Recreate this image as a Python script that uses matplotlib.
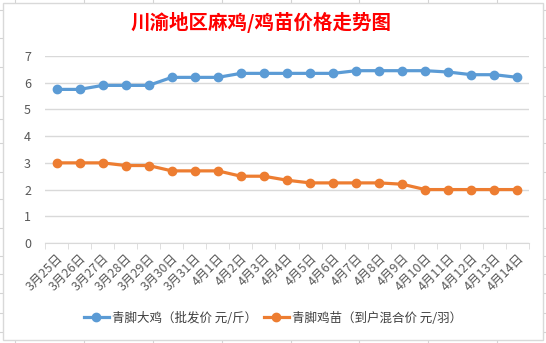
import matplotlib
matplotlib.use("Agg")
import matplotlib.pyplot as plt
from matplotlib.lines import Line2D
from matplotlib.patches import Rectangle
import numpy as np

plt.rcParams['font.family'] = ['Noto Sans CJK SC', 'DejaVu Sans']

dates = ['3月25日', '3月26日', '3月27日', '3月28日', '3月29日', '3月30日', '3月31日',
         '4月1日', '4月2日', '4月3日', '4月4日', '4月5日', '4月6日', '4月7日',
         '4月8日', '4月9日', '4月10日', '4月11日', '4月12日', '4月13日', '4月14日']
big_chicken = [5.75, 5.75, 5.9, 5.9, 5.9, 6.2, 6.2, 6.2, 6.35, 6.35, 6.35,
               6.35, 6.35, 6.45, 6.45, 6.45, 6.45, 6.4, 6.3, 6.3, 6.2]
chick = [3.0, 3.0, 3.0, 2.9, 2.9, 2.7, 2.7, 2.7, 2.5, 2.5, 2.35,
         2.25, 2.25, 2.25, 2.25, 2.2, 2.0, 2.0, 2.0, 2.0, 2.0]
labels = ['青脚大鸡（批发价 元/斤）', '青脚鸡苗（到户混合价 元/羽）']
title = '川渝地区麻鸡/鸡苗价格走势图'

W, H = 546, 343
fig = plt.figure(figsize=(W / 100, H / 100), dpi=100)

# worksheet grid peeking around the chart
grid_c = '#d4d4d4'
row_y = [10, 38, 67, 96, 119, 143, 172, 199, 228, 256, 274, 293, 313, 332]
col_x = [15, 84, 153, 222, 291, 359, 428, 497]
for y in row_y:
    for x0, x1 in [(0, 3), (543, 546)]:
        fig.add_artist(Line2D([x0 / W, x1 / W], [1 - y / H, 1 - y / H],
                              color=grid_c, lw=0.8, zorder=-3))
for x in col_x:
    for y0, y1 in [(0, 3), (340, 343)]:
        fig.add_artist(Line2D([x / W, x / W], [1 - y0 / H, 1 - y1 / H],
                              color=grid_c, lw=0.8, zorder=-3))
fig.add_artist(Rectangle((2.7 / W, 1 - 340 / H), 540.6 / W, 337.5 / H,
                         facecolor='white', edgecolor='#d9d9d9', lw=1.0, zorder=-2))

ax = fig.add_axes([45 / W, 1 - 243 / H, 484 / W, 187 / H])
ax.patch.set_alpha(0)
x = np.arange(len(dates))
ax.plot(x, big_chicken, color='#5b9bd5', lw=2.3, marker='o', ms=6, label=labels[0])
ax.plot(x, chick, color='#ed7d31', lw=2.3, marker='o', ms=6, label=labels[1])

ax.set_xlim(-0.5, len(dates) - 0.5)
ax.set_ylim(0, 7)
ax.set_yticks(range(8))
ax.yaxis.grid(True, color='#d9d9d9', lw=1)
ax.set_axisbelow(True)
for s in ['top', 'right', 'left']:
    ax.spines[s].set_visible(False)
ax.spines['bottom'].set_color('#d9d9d9')
ax.tick_params(axis='y', length=0, pad=10, labelsize=9, labelcolor='#595959')

ax.set_xticks(x)
ax.set_xticklabels(dates, rotation=45, ha='right', va='top', rotation_mode='anchor')
ax.set_xticks(np.arange(-0.5, len(dates)), minor=True)
ax.tick_params(axis='x', which='major', length=0, pad=6, labelsize=9, labelcolor='#595959')
ax.tick_params(axis='x', which='minor', length=4, color='#d9d9d9')

fig.text(261 / W, 1 - 22 / H, title, color='red', fontsize=14, fontweight='bold',
         ha='center', va='center')

fig.legend(loc='center', bbox_to_anchor=(0.5, 1 - 318 / H), ncol=2, frameon=False,
           fontsize=9, handlelength=2.0, columnspacing=0.5, handletextpad=0.3,
           labelcolor='#404040')

fig.savefig('out.png', dpi=100)
